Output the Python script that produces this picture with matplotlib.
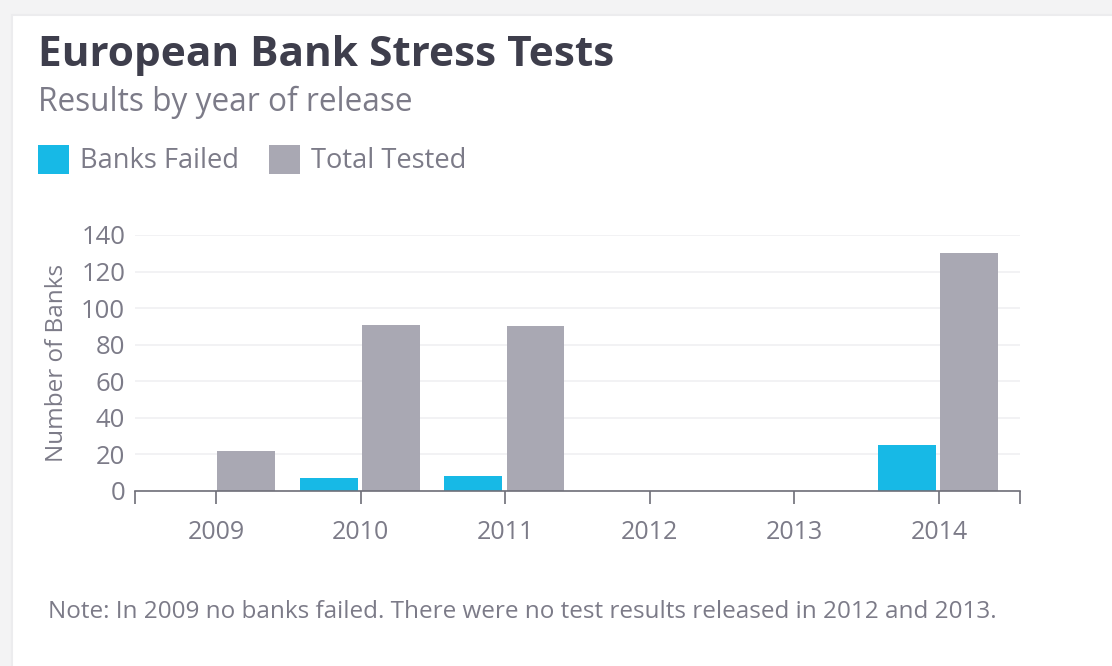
import numpy as np
import matplotlib.pyplot as plt
from matplotlib.patches import FancyBboxPatch

plt.rcParams['font.family'] = ['Open Sans', 'DejaVu Sans']

# Stress test results by year of release
years = ['2009', '2010', '2011', '2012', '2013', '2014']
banks_failed = [0, 7, 8, 0, 0, 25]
total_tested = [22, 91, 90, 0, 0, 130]

blue = '#17b9e6'
grey = '#a9a8b3'
text_grey = '#7c7b88'

fig = plt.figure(figsize=(11.12, 6.66), dpi=100)
fig.patch.set_facecolor('#f3f3f4')

# white card
card = FancyBboxPatch((12 / 1112, -0.05), 1.2, 1 - 15 / 666 + 0.05,
                      boxstyle='square,pad=0', transform=fig.transFigure,
                      facecolor='white', edgecolor='#ececee', lw=1.5, zorder=-10)
fig.patches.append(card)

ax = fig.add_axes([135 / 1112, 1 - 491 / 666, (1020 - 135) / 1112, (491 - 235) / 666])
ax.set_facecolor('none')

x = np.arange(len(years))
w = 0.4
b1 = ax.bar(x - w / 2 - 0.02, banks_failed, width=w, color=blue, label='Banks Failed', zorder=2)
b2 = ax.bar(x + w / 2 + 0.01, total_tested, width=w, color=grey, label='Total Tested', zorder=2)

ax.set_xlim(-0.56, len(years) - 1 + 0.56)
ax.set_ylim(0, 140)
ax.set_yticks(np.arange(0, 141, 20))
ax.set_xticks(list(x) + [-0.56, len(years) - 1 + 0.56])
ax.set_xticklabels(years + ['', ''])
ax.grid(axis='y', color='#f0f0f2', lw=1.2, zorder=0)
for s in ['top', 'right', 'left']:
    ax.spines[s].set_visible(False)
ax.spines['bottom'].set_color('#6e6e78')
ax.spines['bottom'].set_linewidth(1.2)
ax.tick_params(axis='x', length=9, width=1.2, color='#6e6e78', colors=text_grey,
               labelsize=18, pad=12)
ax.tick_params(axis='y', length=0, colors=text_grey, labelsize=18.5, pad=7)
ax.set_ylabel('Number of Banks', color=text_grey, fontsize=17.5, labelpad=9)

fig.text(38 / 1112, 1 - 55 / 666, 'European Bank Stress Tests', fontsize=30.5,
         fontweight='bold', color='#3e3e4c', va='center', ha='left')
fig.text(38 / 1112, 1 - 102 / 666, 'Results by year of release', fontsize=22.8,
         color=text_grey, va='center', ha='left')

fig.legend(handles=[b1, b2], loc='center left', bbox_to_anchor=(27 / 1112, 1 - 160 / 666),
           ncol=2, frameon=False, fontsize=19.6, handlelength=1.15, handleheight=1.25,
           handletextpad=0.4, columnspacing=1.1, labelcolor=text_grey, borderaxespad=0)

fig.text(48 / 1112, 1 - 612 / 666,
         'Note: In 2009 no banks failed. There were no test results released in 2012 and 2013.',
         fontsize=17.5, color=text_grey, va='center', ha='left')

fig.savefig('out.png', dpi=100, facecolor=fig.get_facecolor())
